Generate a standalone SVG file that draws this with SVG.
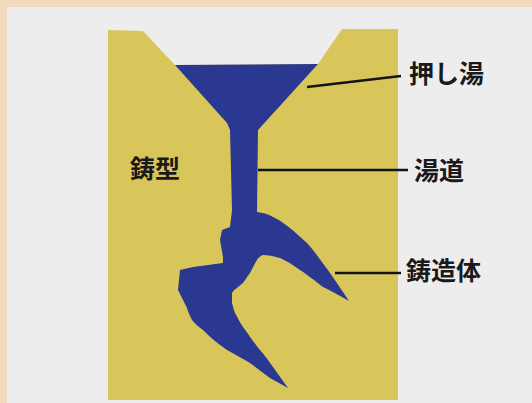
<svg xmlns="http://www.w3.org/2000/svg" width="532" height="403" viewBox="0 0 532 403">
  <style>
    .label { font-family: "Noto Sans CJK JP", "Noto Sans", sans-serif; font-size: 25px; font-weight: 700; fill: #1a1a1a; }
    .leader { stroke: #141414; stroke-width: 2.5; fill: none; stroke-linecap: butt; }
  </style>
  <!-- page background with tinted margin -->
  <rect x="0" y="0" width="532" height="403" fill="#f2d9bb"/>
  <rect x="7" y="7" width="525" height="396" fill="#eeedee"/>

  <!-- mould block with the pouring cup cut out of its top -->
  <g id="mold">
    <path d="M108 30 L143 31 L175 65 L318 64 L342 29 L398 29 L398 400 L108 400 Z" fill="#d8c65a"/>
  </g>

  <!-- cavity: pouring cup, sprue and the casting -->
  <g id="casting">
    <path d="M175 65 L318 64 L258 130 L257 212
             C265 213 270 215 275 218 C285 223 295 232 307 243
             C315 252 322 262 330 273 C337 283 343 292 349 301
             C340 296 332 291 323 287 C314 280 306 274 300 270
             C293 265 287 261 280 258 C273 256 268 255 263 255
             C260 256 258 258 257 260 C254 265 252 269 250 273
             C247 277 245 280 243 283 C240 285 238 287 237 288
             C234 290 233 291 232 293 L232 303 C233 307 234 310 235 313
             C238 318 240 323 243 327 C249 335 254 343 260 350
             C265 356 269 361 273 367 L288 388
             C282 385 276 381 270 378 C263 373 257 368 250 363
             C242 358 234 354 227 350 C218 344 210 337 203 330
             C199 327 195 324 192 320 C190 316 188 312 187 308
             C184 302 181 296 178 290 L180 270 L193 267 L223 263
             L223 257 L220 240 L222 230 L230 227 L232 210 L230 130 L227 123 Z"
          fill="#2b3892"/>
  </g>

  <!-- leader lines -->
  <g id="connectors">
    <line class="leader" x1="307" y1="87" x2="401" y2="76"/>
    <line class="leader" x1="258" y1="170" x2="408" y2="170"/>
    <line class="leader" x1="335" y1="273" x2="401" y2="273"/>
  </g>

  <g id="label-mold"><text class="label" x="130" y="178">鋳型</text></g>
  <g id="label-riser"><text class="label" x="409" y="83">押し湯</text></g>
  <g id="label-sprue"><text class="label" x="414" y="180">湯道</text></g>
  <g id="label-casting"><text class="label" x="406" y="280">鋳造体</text></g>
</svg>
